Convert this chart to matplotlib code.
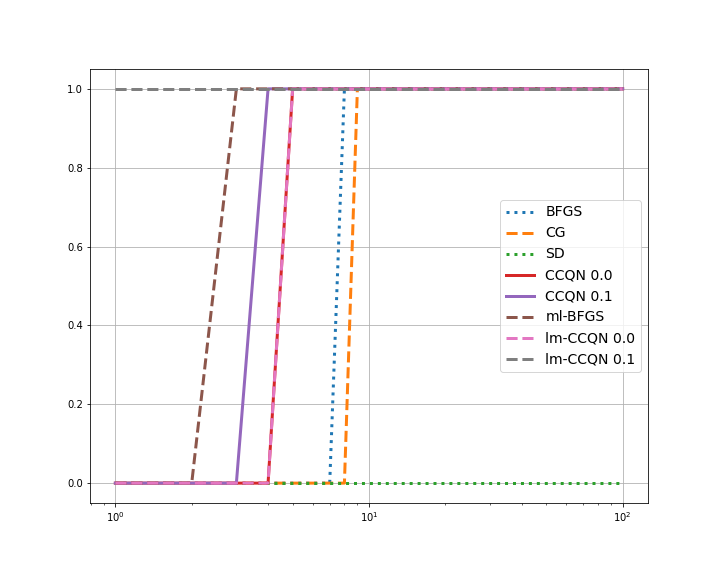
import matplotlib
matplotlib.use("Agg")
import matplotlib.pyplot as plt

labels = ["BFGS", "CG", "SD", "CCQN 0.0", "CCQN 0.1", "ml-BFGS", "lm-CCQN 0.0", "lm-CCQN 0.1"]
xs = [
    [1, 7, 8, 100],
    [1, 8, 9, 100],
    [1, 100],
    [1, 4, 5, 100],
    [1, 3, 4, 100],
    [1, 2, 3, 100],
    [1, 4, 5, 100],
    [1, 100],
]
ys = [
    [0, 0, 1, 1],
    [0, 0, 1, 1],
    [0, 0],
    [0, 0, 1, 1],
    [0, 0, 1, 1],
    [0, 0, 1, 1],
    [0, 0, 1, 1],
    [1, 1],
]
styles = [":", "--", ":", "-", "-", "--", "--", "--"]
colors = ["C0", "C1", "C2", "C3", "C4", "C5", "C6", "C7"]

fig, ax = plt.subplots(figsize=(10, 8), dpi=72)
fig.subplots_adjust(left=0.125, right=0.9, top=0.88, bottom=0.127)
for x, y, ls, c, lab in zip(xs, ys, styles, colors, labels):
    ax.plot(x, y, ls, color=c, lw=3, label=lab)
ax.set_xscale("log")
ax.set_ylim(-0.05, 1.05)
ax.grid(True)
ax.legend(loc="center right", fontsize=14)
fig.savefig("out.png", dpi=72)
